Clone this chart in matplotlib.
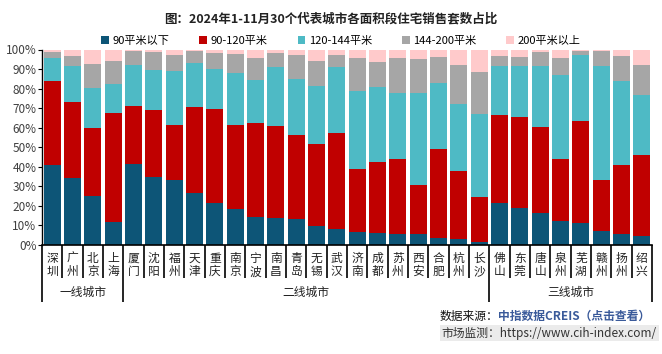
import matplotlib
matplotlib.use("Agg")
import matplotlib.pyplot as plt
import matplotlib.transforms as mtransforms
import numpy as np

plt.rcParams['font.family'] = ['Noto Sans CJK SC', 'DejaVu Sans']

cities = ["深圳", "广州", "北京", "上海",
          "厦门", "沈阳", "福州", "天津", "重庆", "南京", "宁波", "南昌", "青岛",
          "无锡", "武汉", "济南", "成都", "苏州", "西安", "合肥", "杭州", "长沙",
          "佛山", "东莞", "唐山", "泉州", "芜湖", "赣州", "扬州", "绍兴"]
groups = ["一线城市", "二线城市", "三线城市"]
group_sizes = [4, 18, 8]

series_names = ["90平米以下", "90-120平米", "120-144平米", "144-200平米", "200平米以上"]
below90 = [40.7, 34.5, 25.0, 12.0, 41.4, 35.0, 33.5, 26.5, 21.7, 18.5, 14.4, 13.8, 13.3,
           9.6, 8.4, 6.7, 6.3, 5.8, 5.5, 3.8, 3.1, 1.4,
           21.4, 18.8, 16.6, 12.3, 11.1, 7.2, 5.5, 4.8]
s90_120 = [43.1, 38.9, 34.7, 55.4, 29.7, 34.3, 27.9, 44.1, 47.7, 42.9, 48.2, 47.1, 43.1,
           42.0, 48.9, 32.3, 36.4, 38.1, 25.3, 45.4, 35.0, 23.4,
           45.3, 46.5, 43.6, 31.6, 52.5, 25.8, 35.2, 41.0]
s120_144 = [11.6, 18.1, 20.5, 15.0, 21.2, 20.0, 27.6, 22.4, 20.6, 26.6, 22.0, 30.0, 28.7,
            29.6, 33.6, 40.0, 38.0, 33.9, 47.0, 33.7, 34.0, 42.2,
            24.8, 26.2, 31.3, 43.3, 33.8, 58.5, 43.1, 30.8]
s144_200 = [3.1, 5.4, 12.6, 11.5, 6.7, 9.4, 8.4, 6.0, 8.0, 9.5, 11.1, 7.4, 12.0,
            12.8, 6.5, 16.4, 13.0, 17.6, 17.1, 13.2, 19.9, 21.4,
            5.4, 4.7, 7.1, 8.2, 1.7, 7.6, 12.8, 15.4]
above200 = [1.5, 3.1, 7.2, 6.1, 1.0, 1.3, 2.6, 1.0, 2.0, 2.5, 4.3, 1.7, 2.9,
            6.0, 2.6, 4.6, 6.3, 4.6, 5.1, 3.9, 8.0, 11.6,
            3.1, 3.8, 1.4, 4.6, 0.9, 0.9, 3.4, 8.0]
colors = ["#0D5577", "#C00000", "#4EBAC5", "#A6A6A6", "#FFCACB"]

W, H = 662, 354
fig = plt.figure(figsize=(W / 100, H / 100), dpi=100)
ax = fig.add_axes([42 / W, (H - 245) / H, (652 - 42) / W, (245 - 49.5) / H])

data = np.array([below90, s90_120, s120_144, s144_200, above200])
data = data / data.sum(axis=0) * 100
x = np.arange(len(cities))
bottom = np.zeros(len(cities))
for vals, name, c in zip(data, series_names, colors):
    ax.bar(x, vals, bottom=bottom, width=0.83, color=c, label=name, linewidth=0)
    bottom += vals

ax.set_xlim(-0.5, len(cities) - 0.5)
ax.set_ylim(0, 100)
ax.set_yticks(np.arange(0, 101, 10))
ax.set_yticklabels([f"{v}%" for v in range(0, 101, 10)], fontsize=8.5, color="#404040")
ax.tick_params(axis='y', length=3, width=0.8, pad=1, colors="#000000", labelcolor="#404040")
ax.set_xticks([])
for s in ["top", "right"]:
    ax.spines[s].set_visible(False)
ax.spines["left"].set_linewidth(1.0)
ax.spines["bottom"].set_linewidth(1.2)

trans = mtransforms.blended_transform_factory(ax.transData, ax.transAxes)
ah = 245 - 49.5
y_city_line = -(278 - 245) / ah
y_group_line = -(302 - 245) / ah
y_city_lab = -(265 - 245) / ah
y_group_lab = -(292 - 245) / ah

bounds = np.cumsum([0] + group_sizes) - 0.5
for i in range(len(cities) + 1):
    xb = i - 0.5
    ylow = y_group_line if xb in bounds else y_city_line
    ax.plot([xb, xb], [0, ylow], transform=trans, color="black", lw=1.2,
            clip_on=False, solid_capstyle='butt')
for i, c in enumerate(cities):
    ax.text(i, y_city_lab, "\n".join(c), transform=trans, ha="center", va="center",
            fontsize=8.5, linespacing=1.05, color="#222222")
for g, b0, b1 in zip(groups, bounds[:-1], bounds[1:]):
    ax.text((b0 + b1) / 2, y_group_lab, g, transform=trans, ha="center", va="center",
            fontsize=8.5, color="#222222")

fig.text(0.5, (H - 19) / H, "图：2024年1-11月30个代表城市各面积段住宅销售套数占比",
         ha="center", va="center", fontsize=9, fontweight="bold", color="#222222")

handles, labels = ax.get_legend_handles_labels()
fig.legend(handles, labels, loc="center", bbox_to_anchor=(0.515, (H - 41) / H), ncol=5,
           frameon=False, fontsize=8, handlelength=0.7, handleheight=0.7,
           handletextpad=0.3, columnspacing=2.7, borderaxespad=0)

fig.canvas.draw()
r = fig.canvas.get_renderer()
t1 = fig.text(650 / W, (H - 316) / H, "中指数据CREIS（点击查看）", ha="right", va="center",
              fontsize=8.5, fontweight="bold", color="#3A5A9A")
bb = t1.get_window_extent(renderer=r)
fig.text(bb.x0 / W, (H - 316) / H, "数据来源：", ha="right", va="center",
         fontsize=8.5, color="#111111")
fig.text(657 / W, (H - 333) / H, "市场监测：https://www.cih-index.com/", ha="right", va="center",
         fontsize=8.5, color="#333333",
         bbox=dict(boxstyle="square,pad=0.15", facecolor="#EBEBEB", edgecolor="none"))

fig.savefig("out.png", dpi=100)
